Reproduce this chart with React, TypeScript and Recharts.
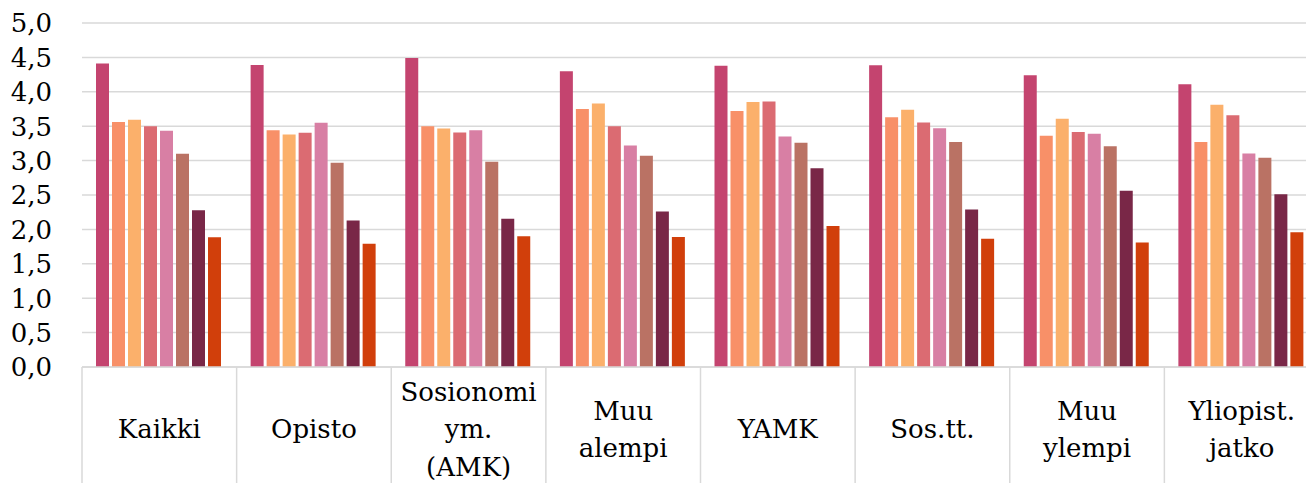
import { Bar, BarChart, CartesianGrid, XAxis, YAxis } from "recharts";

const CATEGORIES = [
  "Kaikki",
  "Opisto",
  "Sosionomi\nym.\n(AMK)",
  "Muu\nalempi",
  "YAMK",
  "Sos.tt.",
  "Muu\nylempi",
  "Yliopist.\njatko",
];

const SERIES_1 = [4.41, 4.39, 4.49, 4.3, 4.38, 4.385, 4.24, 4.11];
const SERIES_2 = [3.56, 3.44, 3.5, 3.75, 3.72, 3.63, 3.36, 3.27];
const SERIES_3 = [3.595, 3.38, 3.465, 3.83, 3.85, 3.74, 3.61, 3.81];
const SERIES_4 = [3.5, 3.405, 3.41, 3.5, 3.86, 3.555, 3.415, 3.66];
const SERIES_5 = [3.435, 3.55, 3.44, 3.22, 3.35, 3.47, 3.39, 3.105];
const SERIES_6 = [3.1, 2.97, 2.985, 3.07, 3.26, 3.27, 3.21, 3.04];
const SERIES_7 = [2.28, 2.13, 2.155, 2.26, 2.89, 2.29, 2.56, 2.51];
const SERIES_8 = [1.885, 1.79, 1.9, 1.89, 2.05, 1.865, 1.81, 1.96];

const Y_TICKS = [0, 0.5, 1, 1.5, 2, 2.5, 3, 3.5, 4, 4.5, 5];

const SERIES = [
  { key: "s1", values: SERIES_1, color: "#C4446F" },
  { key: "s2", values: SERIES_2, color: "#F89068" },
  { key: "s3", values: SERIES_3, color: "#FBB06B" },
  { key: "s4", values: SERIES_4, color: "#DB6B72" },
  { key: "s5", values: SERIES_5, color: "#D87FA4" },
  { key: "s6", values: SERIES_6, color: "#BA7264" },
  { key: "s7", values: SERIES_7, color: "#792747" },
  { key: "s8", values: SERIES_8, color: "#D13F0B" },
];

const data = CATEGORIES.map((name, i) => {
  const row: Record<string, string | number> = { name };
  SERIES.forEach((s) => {
    row[s.key] = s.values[i];
  });
  return row;
});

const FONT = "'DejaVu Serif', serif";
const FONT_SIZE = 26;
const CHART_W = 1330;
const CHART_H = 483;
const MARGIN = { top: 23, right: 11, bottom: 0, left: 0 };
const Y_WIDTH = 82;
const BAND = (CHART_W - MARGIN.left - MARGIN.right - Y_WIDTH) / CATEGORIES.length;
const GRID = "#d9d9d9";

function CategoryTick(props: any) {
  const { x, y, payload, index } = props;
  const lines = String(payload.value).split("\n");
  const lh = 37.5;
  const first = 62 - ((lines.length - 1) * lh) / 2;
  return (
    <g>
      <line x1={x - BAND / 2} x2={x - BAND / 2} y1={y} y2={CHART_H} stroke={GRID} strokeWidth={1.5} />
      {index === CATEGORIES.length - 1 && (
        <line x1={x + BAND / 2} x2={x + BAND / 2} y1={y} y2={CHART_H} stroke={GRID} strokeWidth={1.5} />
      )}
      <text x={x} y={y} textAnchor="middle" fontFamily={FONT} fontSize={FONT_SIZE} fill="#000">
        {lines.map((line, i) => (
          <tspan key={i} x={x} y={y + first + i * lh} dy="0.36em">
            {line}
          </tspan>
        ))}
      </text>
    </g>
  );
}

function ValueTick(props: any) {
  const { x, y, payload } = props;
  return (
    <text x={x} y={y} dy="0.36em" textAnchor="end" fontFamily={FONT} fontSize={FONT_SIZE} fill="#000">
      {Number(payload.value).toFixed(1).replace(".", ",")}
    </text>
  );
}

export default function App() {
  return (
    <div
      style={{
        position: "absolute",
        left: 0,
        top: 0,
        width: 1306,
        height: 483,
        overflow: "hidden",
        background: "#fff",
      }}
    >
      <BarChart
        width={CHART_W}
        height={CHART_H}
        data={data}
        margin={MARGIN}
        barCategoryGap={14}
        barGap={3}
      >
        <CartesianGrid vertical={false} stroke={GRID} strokeWidth={1.5} />
        <XAxis
          dataKey="name"
          height={116}
          interval={0}
          tickLine={false}
          tickSize={0}
          tickMargin={0}
          axisLine={{ stroke: GRID, strokeWidth: 1.5 }}
          tick={<CategoryTick />}
        />
        <YAxis
          width={Y_WIDTH}
          domain={[0, 5]}
          ticks={Y_TICKS}
          interval={0}
          axisLine={false}
          tickLine={false}
          tickSize={0}
          tickMargin={30}
          tick={<ValueTick />}
        />
        {SERIES.map((s) => (
          <Bar key={s.key} dataKey={s.key} fill={s.color} isAnimationActive={false} />
        ))}
      </BarChart>
    </div>
  );
}
